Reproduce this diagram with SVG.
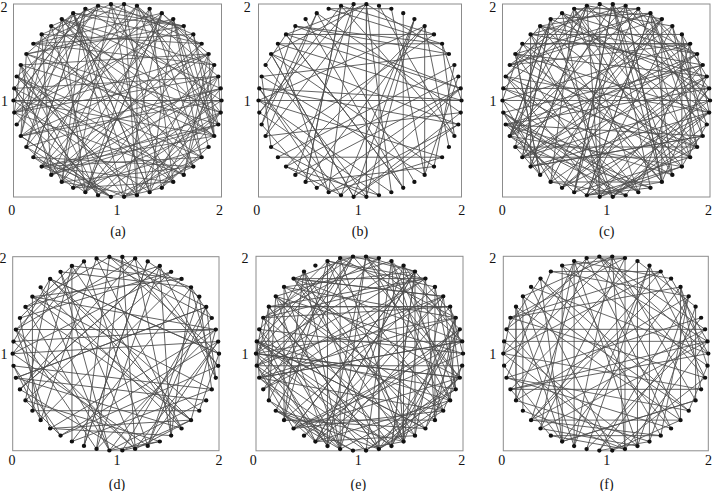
<svg xmlns="http://www.w3.org/2000/svg" xmlns:xlink="http://www.w3.org/1999/xlink" width="714" height="491" viewBox="0 0 714 491">
<style>
.box{fill:none;stroke:#8c8c8c;stroke-width:1}
.edges path,.edges use{fill:none;stroke:#4d4d4d;stroke-width:0.8}
.nodes{fill:none;stroke:#111;stroke-width:4.3;stroke-linecap:round}
text{font-family:"Liberation Serif","Times New Roman",serif;font-size:14px;fill:#111;text-anchor:middle}
</style>
<defs>
<path id="A" d="M99.2 12.5 42.6 90.5M53.6 84.4 -96.9 -24.9M-30.9 95.1 80.9 -58.8M-93 36.8 -6.3 99.8M-87.6 -48.2 63.7 -77.1M-18.7 -98.2 -53.6 84.4M63.7 -77.1 -30.9 -95.1M100 0 -30.9 95.1M63.7 77.1 -53.6 -84.4M-18.7 98.2 99.2 12.5M-87.6 48.2 -42.6 -90.5M-93 -36.8 96.9 24.9M-30.9 -95.1 -80.9 58.8M53.6 -84.4 93 36.8M99.2 -12.5 -87.6 48.2M72.9 68.5 18.7 -98.2M-6.3 99.8 -99.2 12.5M-80.9 58.8 30.9 -95.1M-96.9 -24.9 80.9 58.8M-42.6 -90.5 -99.2 -12.5"/>
<path id="B" d="M42.6 -90.5 6.3 99.8M96.9 -24.9 -99.2 12.5M80.9 58.8 53.6 -84.4M6.3 99.8 -93 -36.8M-72.9 68.5 87.6 -48.2M-99.2 -12.5 -18.7 98.2M-53.6 -84.4 93 -36.8M30.9 -95.1 -30.9 95.1M93 -36.8 -80.9 -58.8M87.6 48.2 -42.6 90.5M18.7 98.2 -42.6 -90.5M-63.7 77.1 96.9 24.9M-100 0 -30.9 -95.1M-63.7 -77.1 93 36.8M18.7 -98.2 -87.6 48.2M87.6 -48.2 63.7 77.1M93 36.8 -72.9 68.5M30.9 95.1 -6.3 -99.8M-53.6 84.4 18.7 98.2M-99.2 12.5 42.6 -90.5"/>
<path id="C" d="M87.6 48.2 42.6 90.5M-30.9 95.1 -53.6 -84.4M-99.2 -12.5 63.7 77.1M-6.3 -99.8 -72.9 -68.5M96.9 -24.9 -18.7 98.2M42.6 90.5 6.3 -99.8M-80.9 58.8 6.3 99.8M-72.9 -68.5 80.9 -58.8M53.6 -84.4 -72.9 68.5M93 36.8 63.7 -77.1M-18.7 98.2 -99.2 -12.5M-100 0 100 0M-18.7 -98.2 -99.2 12.5M93 -36.8 63.7 77.1M53.6 84.4 -72.9 -68.5M-72.9 68.5 80.9 58.8M-80.9 -58.8 6.3 -99.8M42.6 -90.5 -30.9 95.1M96.9 24.9 -18.7 -98.2M-6.3 99.8 -72.9 68.5"/>
<path id="D" d="M-99.2 12.5 63.7 -77.1M-30.9 -95.1 -53.6 84.4M87.6 -48.2 42.6 -90.5M63.7 77.1 -99.2 12.5M-63.7 77.1 96.9 -24.9M-87.6 -48.2 -93 36.8M30.9 -95.1 80.9 58.8M99.2 12.5 -87.6 -48.2M6.3 99.8 93 36.8M-96.9 24.9 -18.7 -98.2M-42.6 -90.5 30.9 95.1M80.9 -58.8 -42.6 -90.5M72.9 68.5 -53.6 84.4M-53.6 84.4 42.6 -90.5M-93 -36.8 -30.9 95.1M18.7 -98.2 96.9 -24.9M100 0 -93 36.8M18.7 98.2 87.6 -48.2M-93 36.8 -72.9 -68.5M-53.6 -84.4 93 36.8"/>
<path id="F" d="M42.6 90.5 6.3 99.8M-99.2 -12.5 96.9 -24.9M63.7 -77.1 -42.6 -90.5M30.9 95.1 -100 0M-96.9 -24.9 18.7 98.2M72.9 -68.5 96.9 24.9M18.7 98.2 6.3 -99.8M-93 -36.8 -99.2 12.5M80.9 -58.8 -63.7 77.1M6.3 99.8 99.2 12.5M-87.6 -48.2 53.6 -84.4M87.6 -48.2 -93 -36.8M-6.3 99.8 -87.6 48.2M-80.9 -58.8 80.9 58.8M93 -36.8 42.6 -90.5M-18.7 98.2 -63.7 -77.1M-72.9 -68.5 -63.7 77.1M96.9 -24.9 42.6 90.5M-30.9 95.1 93 -36.8M-63.7 -77.1 -18.7 -98.2"/>
<path id="G" d="M99.2 -12.5 -93 36.8M-42.6 90.5 53.6 84.4M-53.6 -84.4 99.2 -12.5M100 0 -30.9 -95.1M-53.6 84.4 -99.2 -12.5M-42.6 -90.5 6.3 99.8M99.2 12.5 96.9 -24.9M-63.7 77.1 18.7 -98.2M-30.9 -95.1 -100 0M96.9 24.9 -42.6 90.5M-72.9 68.5 96.9 24.9M-18.7 -98.2 63.7 -77.1M93 36.8 -87.6 -48.2M-80.9 58.8 -30.9 95.1M-6.3 -99.8 72.9 68.5M87.6 48.2 53.6 -84.4M-87.6 48.2 -53.6 -84.4M6.3 -99.8 -72.9 68.5M80.9 58.8 30.9 95.1M-93 36.8 87.6 -48.2"/>
<path id="nodes" class="nodes" d="M100 0h0M99.2 12.5h0M96.9 24.9h0M93 36.8h0M87.6 48.2h0M80.9 58.8h0M72.9 68.5h0M63.7 77.1h0M53.6 84.4h0M42.6 90.5h0M30.9 95.1h0M18.7 98.2h0M6.3 99.8h0M-6.3 99.8h0M-18.7 98.2h0M-30.9 95.1h0M-42.6 90.5h0M-53.6 84.4h0M-63.7 77.1h0M-72.9 68.5h0M-80.9 58.8h0M-87.6 48.2h0M-93 36.8h0M-96.9 24.9h0M-99.2 12.5h0M-100 0h0M-99.2 -12.5h0M-96.9 -24.9h0M-93 -36.8h0M-87.6 -48.2h0M-80.9 -58.8h0M-72.9 -68.5h0M-63.7 -77.1h0M-53.6 -84.4h0M-42.6 -90.5h0M-30.9 -95.1h0M-18.7 -98.2h0M-6.3 -99.8h0M6.3 -99.8h0M18.7 -98.2h0M30.9 -95.1h0M42.6 -90.5h0M53.6 -84.4h0M63.7 -77.1h0M72.9 -68.5h0M80.9 -58.8h0M87.6 -48.2h0M93 -36.8h0M96.9 -24.9h0M99.2 -12.5h0"/>
</defs>
<rect width="714" height="491" fill="#fff"/>

<g id="panel-a">
<rect class="box" x="13.5" y="4" width="208" height="193"/>
<g id="edges-a" class="edges" transform="translate(117.5 100.5) scale(1.04 0.965)">
<use href="#A"/><use href="#B"/><use href="#C"/><use href="#D"/><use href="#F"/><use href="#G"/>
<use href="#C" transform="scale(-1 1)"/><use href="#D" transform="scale(-1 1)"/>
<path d="M18.7 -98.2 18.7 98.2"/>
</g>
<use href="#nodes" transform="translate(117.5 100.5) scale(1.04 0.965)"/>
<text x="4" y="11.5">2</text><text x="4.5" y="106">1</text>
<text x="11.7" y="214.5">0</text><text x="117" y="214.5">1</text><text x="219.5" y="214.5">2</text>
<text x="118" y="235.5">(a)</text>
</g>

<g id="panel-b">
<rect class="box" x="258.5" y="4" width="203" height="193"/>
<g id="edges-b" class="edges" transform="translate(360 100.5) scale(1.015 0.965)">
<use href="#A" transform="rotate(72)"/><use href="#B" transform="rotate(72)"/><use href="#G" transform="rotate(216)"/>
<use href="#D" transform="rotate(252) scale(-1 1)"/>
<path d="M6.3 -99.8 6.3 99.8M18.7 -98.2 18.7 98.2M42.6 -90.5 42.6 90.5"/>
</g>
<use href="#nodes" transform="translate(360 100.5) scale(1.015 0.965)"/>
<text x="247.3" y="11.5">2</text><text x="247.3" y="106">1</text>
<text x="256.7" y="214.5">0</text><text x="358.3" y="214.5">1</text><text x="461.7" y="214.5">2</text>
<text x="360" y="235.5">(b)</text>
</g>

<g id="panel-c">
<rect class="box" x="502.5" y="4" width="207.5" height="193"/>
<g id="edges-c" class="edges" transform="translate(606.25 100.5) scale(1.0375 0.965)">
<use href="#A" transform="scale(-1 1)"/><use href="#B" transform="scale(-1 1)"/>
<use href="#C" transform="rotate(36)"/><use href="#D" transform="rotate(36)"/>
<use href="#F" transform="rotate(144)"/><use href="#G" transform="rotate(144)"/>
<use href="#A" transform="rotate(216)"/><use href="#B" transform="rotate(216)"/>
</g>
<use href="#nodes" transform="translate(606.25 100.5) scale(1.0375 0.965)"/>
<text x="492.7" y="11.5">2</text><text x="493" y="106">1</text>
<text x="502.3" y="214.5">0</text><text x="606.7" y="214.5">1</text><text x="708.5" y="214.5">2</text>
<text x="606.7" y="235.5">(c)</text>
</g>

<g id="panel-d">
<rect class="box" x="12.7" y="256.7" width="206.3" height="194"/>
<g id="edges-d" class="edges" transform="translate(115.85 353.7) scale(1.0315 0.97)">
<use href="#C" transform="rotate(108)"/><use href="#D" transform="rotate(108)"/>
<use href="#F" transform="rotate(252)"/><use href="#G" transform="rotate(252) scale(-1 1)"/>
<use href="#B" transform="rotate(324)"/>
</g>
<use href="#nodes" transform="translate(115.85 353.7) scale(1.0315 0.97)"/>
<text x="3" y="263.3">2</text><text x="4" y="359">1</text>
<text x="12" y="465.3">0</text><text x="117" y="465.3">1</text><text x="219" y="465.3">2</text>
<text x="117" y="488.5">(d)</text>
</g>

<g id="panel-e">
<rect class="box" x="256" y="256.3" width="207" height="194.5"/>
<g id="edges-e" class="edges" transform="translate(359.5 353.55) scale(1.035 0.9725)">
<use href="#A" transform="rotate(288)"/><use href="#B" transform="rotate(288)"/>
<use href="#C" transform="rotate(57.6) scale(-1 1)"/><use href="#D" transform="rotate(57.6) scale(-1 1)"/>
<use href="#F" transform="rotate(194.4)"/><use href="#G" transform="rotate(194.4)"/>
<use href="#D" transform="rotate(180)"/><use href="#F" transform="rotate(100.8)"/>
<path d="M-18.7 -98.2 -18.7 98.2"/>
</g>
<use href="#nodes" transform="translate(359.5 353.55) scale(1.035 0.9725)"/>
<text x="245" y="263.3">2</text><text x="245" y="359">1</text>
<text x="253.3" y="465.3">0</text><text x="358.3" y="465.3">1</text><text x="461.7" y="465.3">2</text>
<text x="358.3" y="488.5">(e)</text>
</g>

<g id="panel-f">
<rect class="box" x="503.3" y="256.3" width="205" height="194.5"/>
<g id="edges-f" class="edges" transform="translate(605.8 353.55) scale(1.025 0.9725)">
<use href="#F" transform="rotate(86.4) scale(-1 1)"/><use href="#G" transform="rotate(86.4) scale(-1 1)"/>
<use href="#A" transform="rotate(324)"/><use href="#B" transform="rotate(324)"/>
<use href="#C" transform="rotate(216)"/>
<path d="M-53.6 -84.4 53.6 -84.4"/>
</g>
<use href="#nodes" transform="translate(605.8 353.55) scale(1.025 0.9725)"/>
<text x="492.7" y="263.3">2</text><text x="492.7" y="359">1</text>
<text x="501.7" y="465.3">0</text><text x="606.7" y="465.3">1</text><text x="708.5" y="465.3">2</text>
<text x="606.7" y="488.5">(f)</text>
</g>
</svg>
